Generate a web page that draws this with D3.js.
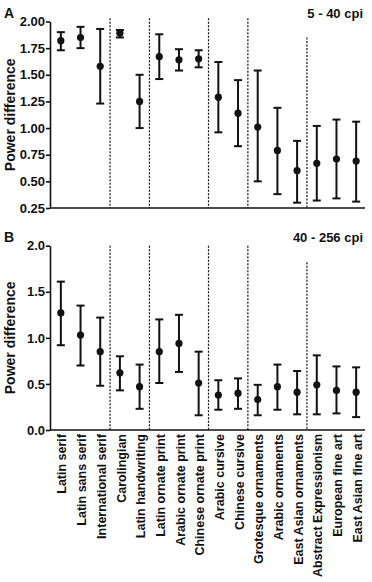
<!DOCTYPE html>
<html>
<head>
<meta charset="utf-8">
<script src="https://cdn.jsdelivr.net/npm/d3@7"></script>
<style>
  body { margin: 0; background: #fff; }
  svg text { font-family: "Liberation Sans", Arial, sans-serif; font-weight: bold; fill: #111; }
</style>
</head>
<body>
<svg id="chart" width="372" height="582"></svg>
<script>
const categories = [
  "Latin serif", "Latin sans serif", "International serif", "Carolingian",
  "Latin handwriting", "Latin ornate print", "Arabic ornate print", "Chinese ornate print",
  "Arabic cursive", "Chinese cursive", "Grotesque ornaments", "Arabic ornaments",
  "East Asian ornaments", "Abstract Expressionism", "European fine art", "East Asian fine art"
];

// panel A: 5 - 40 cpi
const meanA = [1.82, 1.85, 1.58, 1.89, 1.25, 1.67, 1.64, 1.65, 1.29, 1.14, 1.01, 0.79, 0.60, 0.67, 0.71, 0.69];
const lowA  = [1.73, 1.75, 1.23, 1.85, 1.00, 1.46, 1.54, 1.57, 0.96, 0.83, 0.50, 0.38, 0.30, 0.32, 0.34, 0.31];
const highA = [1.90, 1.95, 1.93, 1.92, 1.50, 1.88, 1.74, 1.73, 1.62, 1.45, 1.54, 1.19, 0.88, 1.02, 1.08, 1.06];
const ticksA = [0.25, 0.50, 0.75, 1.00, 1.25, 1.50, 1.75, 2.00];

// panel B: 40 - 256 cpi
const meanB = [1.27, 1.03, 0.85, 0.62, 0.47, 0.85, 0.94, 0.51, 0.38, 0.40, 0.33, 0.47, 0.41, 0.49, 0.43, 0.41];
const lowB  = [0.92, 0.70, 0.48, 0.43, 0.23, 0.51, 0.63, 0.16, 0.22, 0.23, 0.16, 0.22, 0.17, 0.17, 0.18, 0.14];
const highB = [1.61, 1.35, 1.22, 0.80, 0.71, 1.20, 1.25, 0.85, 0.54, 0.56, 0.49, 0.71, 0.64, 0.81, 0.69, 0.68];
const ticksB = [0.0, 0.5, 1.0, 1.5, 2.0];

// group separators: index of first category in a new group, and top of the dotted line
const groupStarts = [3, 5, 8, 10, 13];
const sepTopA = [2.03, 2.03, 2.03, 2.03, 1.85];
const sepTopB = [2.0, 2.0, 2.0, 2.0, 1.82];

const svg = d3.select("#chart");
const axisLeft = 50, axisRight = 365;

const x = d3.scaleBand().domain(categories).range([51, 366]);

function drawPanel(p) {
  const y = d3.scaleLinear().domain(p.domain).range([p.bottom, p.top]);
  const g = svg.append("g");

  // dotted group separators
  g.selectAll("line.sep")
    .data(groupStarts)
    .enter().append("line")
    .attr("x1", (d) => x(categories[d]))
    .attr("x2", (d) => x(categories[d]))
    .attr("y1", (d, i) => y(p.sepTop[i]))
    .attr("y2", p.bottom)
    .attr("stroke", "#111")
    .attr("stroke-width", 1.2)
    .attr("stroke-dasharray", "2,1.5");

  // y axis
  const ya = g.append("g")
    .attr("transform", `translate(${axisLeft},0)`)
    .call(d3.axisLeft(y).tickValues(p.ticks).tickFormat(d3.format(p.fmt)).tickSize(4).tickSizeOuter(0));
  ya.select(".domain").attr("stroke", "#111").attr("stroke-width", 1.6);
  ya.selectAll(".tick line").attr("stroke", "#111").attr("stroke-width", 1.6);
  ya.selectAll(".tick text").attr("font-size", 13).attr("x", -5).attr("fill", "#111");
  ya.attr("font-family", null);

  // x axis line
  g.append("line")
    .attr("x1", axisLeft).attr("x2", axisRight)
    .attr("y1", p.bottom).attr("y2", p.bottom)
    .attr("stroke", "#111").attr("stroke-width", 1.6);

  const cx = (i) => x(categories[i]) + x.bandwidth() / 2;
  const idx = d3.range(categories.length);

  // error bars
  g.selectAll("line.err")
    .data(idx).enter().append("line")
    .attr("x1", cx).attr("x2", cx)
    .attr("y1", (i) => y(p.low[i])).attr("y2", (i) => y(p.high[i]))
    .attr("stroke", "#111").attr("stroke-width", 2);
  ["low", "high"].forEach((k) => {
    g.selectAll("line.cap-" + k)
      .data(idx).enter().append("line")
      .attr("x1", (i) => cx(i) - 4).attr("x2", (i) => cx(i) + 4)
      .attr("y1", (i) => y(p[k][i])).attr("y2", (i) => y(p[k][i]))
      .attr("stroke", "#111").attr("stroke-width", 2);
  });

  g.selectAll("circle")
    .data(idx).enter().append("circle")
    .attr("cx", cx).attr("cy", (i) => y(p.mean[i]))
    .attr("r", 3.6).attr("fill", "#111");

  // panel letter and range label
  g.append("text").attr("x", 4).attr("y", p.top - 4).attr("font-size", 14).text(p.letter);
  g.append("text").attr("x", 363).attr("y", p.top - 4).attr("text-anchor", "end")
    .attr("font-size", 13).text(p.label);

  // y title
  g.append("text")
    .attr("transform", `translate(15,${(p.top + p.bottom) / 2}) rotate(-90)`)
    .attr("text-anchor", "middle")
    .attr("font-size", 14)
    .text("Power difference");

  if (p.showLabels) {
    g.selectAll("text.cat")
      .data(idx).enter().append("text")
      .attr("transform", (i) => `translate(${cx(i)},${p.bottom + 4}) rotate(-90)`)
      .attr("text-anchor", "end")
      .attr("dy", "0.45em")
      .attr("font-size", 12.5)
      .text((i) => categories[i]);
  }
}

drawPanel({ domain: [0.25, 2.0], top: 21.5, bottom: 208, ticks: ticksA, fmt: ".2f",
  mean: meanA, low: lowA, high: highA, sepTop: sepTopA, letter: "A", label: "5 - 40 cpi", showLabels: false });
drawPanel({ domain: [0, 2.0], top: 245.7, bottom: 430, ticks: ticksB, fmt: ".1f",
  mean: meanB, low: lowB, high: highB, sepTop: sepTopB, letter: "B", label: "40 - 256 cpi", showLabels: true });
</script>
</body>
</html>
